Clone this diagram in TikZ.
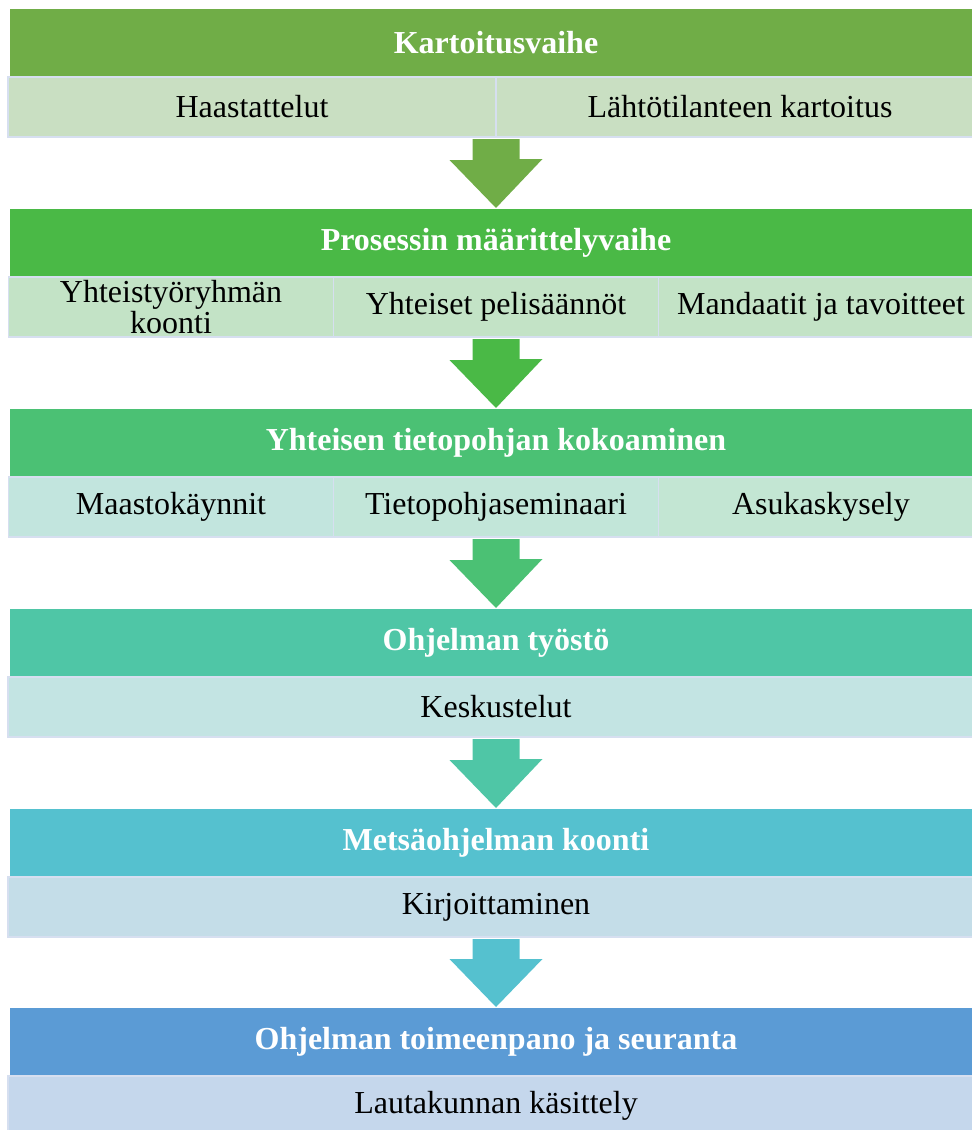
\documentclass[tikz,border=0pt]{standalone}
\usepackage{fontspec}
\setmainfont{Liberation Serif}
\usetikzlibrary{positioning,calc}

\definecolor{hone}{HTML}{70AD47}
\definecolor{htwo}{HTML}{4AB946}
\definecolor{hthree}{HTML}{4BC174}
\definecolor{hfour}{HTML}{4FC6A6}
\definecolor{hfive}{HTML}{55C1CF}
\definecolor{hsix}{HTML}{5B9BD5}
\definecolor{sone}{HTML}{C9DFC2}
\definecolor{stwo}{HTML}{C3E3C6}
\definecolor{sthreea}{HTML}{C2E5DE}
\definecolor{sthreeb}{HTML}{C2E6D9}
\definecolor{sthreec}{HTML}{C3E6D3}
\definecolor{sfour}{HTML}{C3E4E3}
\definecolor{sfive}{HTML}{C4DDE8}
\definecolor{ssix}{HTML}{C5D7EC}
\definecolor{cellline}{HTML}{D6DFF0}

\tikzset{
  head/.style={fill=#1, text=white, font=\bfseries, minimum width=972pt,
    minimum height=68pt, inner sep=0pt, outer sep=0pt},
  cell/.style={fill=#1, draw=cellline, line width=1.5pt, minimum height=60pt,
    inner sep=0pt, outer sep=0pt, align=center},
}
\newcommand\stagearrow[3]{% from cell, to header, colour
  \fill[#3] ($(#2.north |- #1.south)+(-23.5,-2)$) -- ++(47,0) -- ++(0,-20)
    -- ++(23,0) -- ($(#2.north)+(0,1)$) -- ++(-46.5,48) -- ++(23,0) -- cycle;
}

\begin{document}
\begin{tikzpicture}[x=1pt,y=1pt]
		\useasboundingbox (0,0) rectangle (972,-1130);
		\fontsize{32}{31}\selectfont

		\node[head=hone] (h1) at (496,-43) {Kartoitusvaihe};
		\node[head=htwo] (h2) at (496,-243) {Prosessin määrittelyvaihe};
		\node[head=hthree] (h3) at (496,-443) {Yhteisen tietopohjan kokoaminen};
		\node[head=hfour] (h4) at (496,-643) {Ohjelman työstö};
		\node[head=hfive] (h5) at (496,-843) {Metsäohjelman koonti};
		\node[head=hsix] (h6) at (496,-1042) {Ohjelman toimeenpano ja seuranta};

		\node[cell=sone, minimum width=488pt, anchor=north east] (s1a) at (h1.south) {Haastattelut};
		\node[cell=sone, minimum width=488pt, anchor=north west] (s1b) at (h1.south) {Lähtötilanteen kartoitus};

		\node[cell=stwo, minimum width=325pt, below=0pt of h2] (s2b) {Yhteiset pelisäännöt};
		\node[cell=stwo, minimum width=325pt, left=0pt of s2b] (s2a) {Yhteistyöryhmän\\koonti};
		\node[cell=stwo, minimum width=325pt, right=0pt of s2b] (s2c) {Mandaatit ja tavoitteet};

		\node[cell=sthreeb, minimum width=325pt, below=0pt of h3] (s3b) {Tietopohjaseminaari};
		\node[cell=sthreea, minimum width=325pt, left=0pt of s3b] (s3a) {Maastokäynnit};
		\node[cell=sthreec, minimum width=325pt, right=0pt of s3b] (s3c) {Asukaskysely};

		\node[cell=sfour, minimum width=976pt, below=0pt of h4] (s4) {Keskustelut};
		\node[cell=sfive, minimum width=976pt, below=0pt of h5] (s5) {Kirjoittaminen};
		\node[cell=ssix, minimum width=976pt, below=0pt of h6] (s6) {Lautakunnan käsittely};

		\stagearrow{s1a}{h2}{hone}
		\stagearrow{s2b}{h3}{htwo}
		\stagearrow{s3b}{h4}{hthree}
		\stagearrow{s4}{h5}{hfour}
		\stagearrow{s5}{h6}{hfive}
	\end{tikzpicture}
\end{document}
